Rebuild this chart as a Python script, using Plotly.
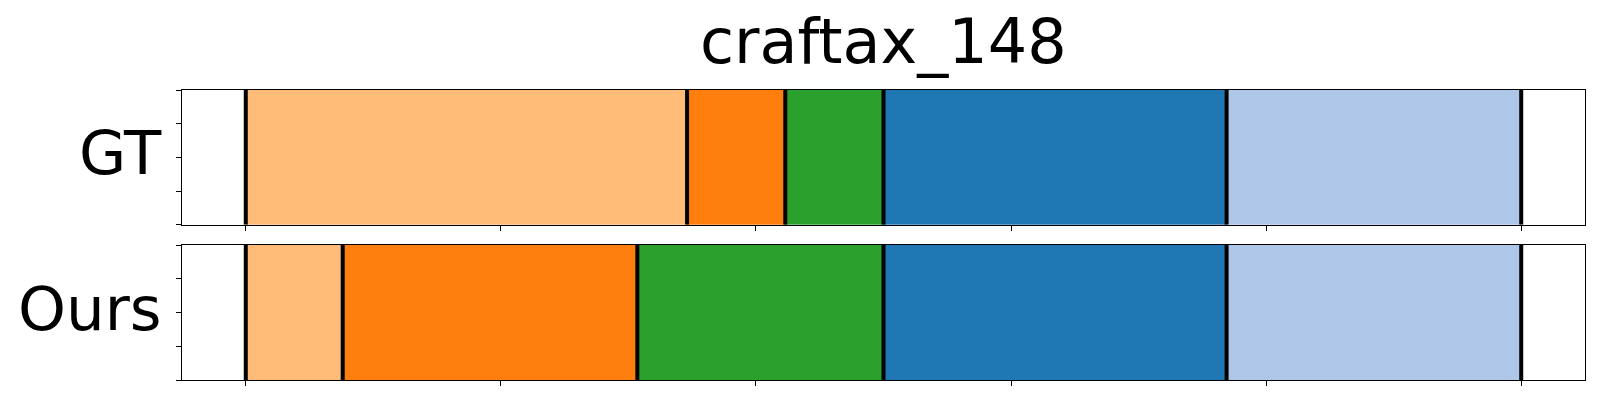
import plotly.graph_objects as go

# Data
title = "craftax_148"
rows = ["GT", "Ours"]
total_len = 100.0
gt_bounds = [0.0, 34.6, 42.3, 50.0, 76.9, 100.0]
ours_bounds = [0.0, 7.6, 30.7, 50.0, 76.9, 100.0]
seg_colors = ["#ffbb78", "#ff7f0e", "#2ca02c", "#1f77b4", "#aec7e8"]
x_ticks = [0, 20, 40, 60, 80, 100]
y_ticks = [0, 0.25, 0.5, 0.75, 1.0]

W, H = 1600, 400
ml, mr, mt, mb = 181.7, 14.7, 90.3, 19.7
ph = H - mt - mb

fig = go.Figure()

all_bounds = [gt_bounds, ours_bounds]
axes = [("x", "y"), ("x2", "y2")]
for bounds, (xa, ya) in zip(all_bounds, axes):
    for i in range(len(bounds) - 1):
        fig.add_trace(go.Bar(
            orientation="h", y=[0.5], x=[bounds[i + 1] - bounds[i]], base=[bounds[i]],
            width=1.0, marker=dict(color=seg_colors[i], line=dict(color=seg_colors[i], width=0.5)),
            xaxis=xa, yaxis=ya, showlegend=False, hoverinfo="skip"))
    lx, ly = [], []
    for b in bounds:
        lx += [b, b, None]
        ly += [0, 1, None]
    fig.add_trace(go.Scatter(x=lx, y=ly, mode="lines", line=dict(color="black", width=4),
                             xaxis=xa, yaxis=ya, showlegend=False, hoverinfo="skip"))

margin_x = 0.05 * total_len
xcommon = dict(range=[-margin_x, total_len + margin_x], tickvals=x_ticks, showticklabels=False,
               ticks="outside", ticklen=5, tickwidth=1, tickcolor="black",
               showline=True, linecolor="black", linewidth=1, mirror=True,
               showgrid=False, zeroline=False)
ycommon = dict(range=[0, 1], tickvals=y_ticks, showticklabels=False,
               ticks="outside", ticklen=5, tickwidth=1, tickcolor="black",
               showline=True, linecolor="black", linewidth=1, mirror=True,
               showgrid=False, zeroline=False)

top_dom = [(H - mb - 225.0) / ph, 1.0]
bot_dom = [0.0, (H - mb - 245.3) / ph]

fig.update_layout(
    width=W, height=H,
    margin=dict(l=ml, r=mr, t=mt, b=mb, pad=0),
    paper_bgcolor="white", plot_bgcolor="white",
    barmode="overlay",
    font=dict(family="DejaVu Sans", color="black"),
    xaxis=dict(**xcommon, anchor="y", domain=[0, 1]),
    yaxis=dict(**ycommon, anchor="x", domain=top_dom),
    xaxis2=dict(**xcommon, anchor="y2", domain=[0, 1]),
    yaxis2=dict(**ycommon, anchor="x2", domain=bot_dom),
)

# Title
fig.add_annotation(text=title, xref="paper", yref="paper", x=0.5, y=(H - mb - 42) / ph,
                   xanchor="center", yanchor="middle", showarrow=False,
                   font=dict(size=62, family="DejaVu Sans", color="black"))

# Row labels
centers = [(top_dom[0] + top_dom[1]) / 2 + 5 / ph, (bot_dom[0] + bot_dom[1]) / 2 + 4 / ph]
for lab, c in zip(rows, centers):
    fig.add_annotation(text=lab, xref="paper", yref="paper", x=-(ml - 164) / (W - ml - mr), y=c,
                       xanchor="right", yanchor="middle", showarrow=False,
                       font=dict(size=61, family="DejaVu Sans", color="black"))

fig.write_html("out.html", config={"displayModeBar": False},
               post_script="document.body.style.margin='0';document.body.style.overflow='hidden';")
